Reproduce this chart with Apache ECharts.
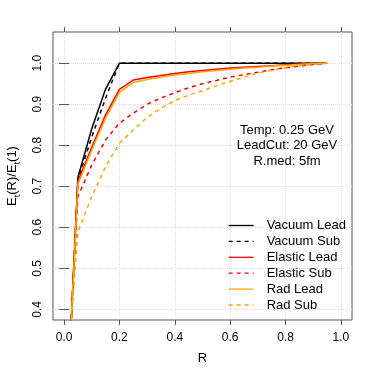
<!DOCTYPE html>
<html>
<head>
<meta charset="utf-8">
<script src="https://cdn.jsdelivr.net/npm/echarts@6/dist/echarts.min.js"></script>
<style>
html,body{margin:0;padding:0;background:#fff;}
#c{width:374px;height:374px;}
</style>
</head>
<body>
<div id="c"></div>
<script>
var R = [0.025, 0.05, 0.1, 0.15, 0.2, 0.25, 0.3, 0.35, 0.4, 0.45, 0.5, 0.55, 0.6, 0.65, 0.7, 0.75, 0.8, 0.85, 0.9, 0.95];
var vacuumLead  = [0.36, 0.722, 0.84, 0.937, 1.0, 1.0, 1.0, 1.0, 1.0, 1.0, 1.0, 1.0, 1.0, 1.0, 1.0, 1.0, 1.0, 1.0, 1.0, 1.0];
var vacuumSub   = [0.36, 0.715, 0.82, 0.915, 1.0, 1.0, 1.0, 1.0, 1.0, 1.0, 1.0, 1.0, 1.0, 1.0, 1.0, 1.0, 1.0, 1.0, 1.0, 1.0];
var elasticLead = [0.36, 0.712, 0.795, 0.874, 0.936, 0.959, 0.965, 0.970, 0.975, 0.979, 0.982, 0.985, 0.988, 0.990, 0.992, 0.994, 0.996, 0.998, 0.999, 1.0];
var elasticSub  = [0.36, 0.675, 0.752, 0.813, 0.854, 0.878, 0.900, 0.915, 0.928, 0.940, 0.950, 0.958, 0.966, 0.972, 0.978, 0.984, 0.989, 0.993, 0.997, 1.0];
var radLead     = [0.36, 0.705, 0.788, 0.866, 0.929, 0.953, 0.960, 0.966, 0.971, 0.975, 0.979, 0.982, 0.985, 0.988, 0.990, 0.993, 0.995, 0.997, 0.999, 1.0];
var radSub      = [0.36, 0.589, 0.675, 0.748, 0.805, 0.837, 0.868, 0.890, 0.909, 0.922, 0.933, 0.945, 0.956, 0.966, 0.976, 0.983, 0.989, 0.994, 0.997, 1.0];
var xTicks = [0, 0.2, 0.4, 0.6, 0.8, 1.0];
var yTicks = [0.4, 0.5, 0.6, 0.7, 0.8, 0.9, 1.0];
var seriesNames = ['Vacuum Lead', 'Vacuum Sub', 'Elastic Lead', 'Elastic Sub', 'Rad Lead', 'Rad Sub'];
var seriesData = [vacuumLead, vacuumSub, elasticLead, elasticSub, radLead, radSub];
var seriesColors = ['#000000', '#000000', '#FF0000', '#FF0000', '#FFA500', '#FFA500'];
var seriesDash = ['solid', [4, 4], 'solid', [4, 4], 'solid', [4, 4]];
var annotation = ['Temp: 0.25 GeV', 'LeadCut: 20 GeV', 'R.med: 5fm'];

var FONT = 'Liberation Sans, Arial, Helvetica, sans-serif';
function pairs(ys) { return R.map(function (r, i) { return [r, ys[i]]; }); }

var chart = echarts.init(document.getElementById('c'), null, {renderer: 'canvas'});
var frame = '#555555';
var option = {
  animation: false,
  backgroundColor: '#ffffff',
  grid: {left: 53, right: 22, top: 32, bottom: 54, show: true, borderColor: frame, borderWidth: 1,
    backgroundColor: 'transparent', containLabel: false, outerBoundsMode: 'none'},
  xAxis: [{
    type: 'value', min: -0.04, max: 1.04, position: 'bottom',
    name: 'R', nameLocation: 'middle', nameGap: 32,
    nameTextStyle: {fontSize: 13, color: '#000', fontFamily: FONT},
    axisLine: {show: false},
    axisTick: {show: true, inside: false, length: 5, customValues: xTicks, lineStyle: {color: frame}},
    axisLabel: {show: true, customValues: xTicks, margin: 12, fontSize: 12, color: '#000', fontFamily: FONT,
      formatter: function (v) { return v.toFixed(1); }},
    splitLine: {show: true, lineStyle: {color: '#dddddd', type: 'dotted', width: 1}}
  }, {
    type: 'value', min: -0.04, max: 1.04, position: 'top',
    axisLine: {show: false},
    axisTick: {show: true, inside: false, length: 5, customValues: xTicks, lineStyle: {color: frame}},
    axisLabel: {show: false},
    splitLine: {show: false}
  }],
  yAxis: [{
    type: 'value', min: 0.374, max: 1.076, position: 'left',
    name: '{a|E}{s|t}{a|(R)/E}{s|t}{a|(1)}', nameLocation: 'middle', nameGap: 31, nameRotate: 90,
    nameTextStyle: {
      rich: {
        a: {fontSize: 13, color: '#000', fontFamily: FONT, verticalAlign: 'bottom', padding: [0, 0, 3, 0]},
        s: {fontSize: 9, color: '#000', fontFamily: FONT, verticalAlign: 'bottom'}
      }
    },
    axisLine: {show: false},
    axisTick: {show: true, inside: false, length: 5, customValues: yTicks, lineStyle: {color: frame}},
    axisLabel: {show: true, customValues: yTicks, rotate: 90, margin: 9, fontSize: 12, color: '#000', fontFamily: FONT,
      formatter: function (v) { return v.toFixed(1); }},
    splitLine: {show: true, lineStyle: {color: '#dddddd', type: 'dotted', width: 1}}
  }, {
    type: 'value', min: 0.374, max: 1.076, position: 'right',
    axisLine: {show: false},
    axisTick: {show: true, inside: false, length: 5, customValues: yTicks, lineStyle: {color: frame}},
    axisLabel: {show: false},
    splitLine: {show: false}
  }],
  legend: {
    orient: 'vertical', left: 228, top: 219, padding: 0,
    itemWidth: 25, itemHeight: 14, itemGap: 2.9,
    data: seriesNames,
    itemStyle: {opacity: 0},
    lineStyle: {width: 1.3},
    textStyle: {fontSize: 13, color: '#000', fontFamily: FONT, padding: [0, 0, 0, 8]},
    selectedMode: false
  },
  graphic: annotation.map(function (t, i) {
    return {type: 'text', x: 287, y: 130 + i * 15.8, z: 100,
      style: {text: t, textAlign: 'center', textVerticalAlign: 'middle', fontSize: 13, fill: '#000', fontFamily: FONT}};
  }),
  series: seriesNames.map(function (n, i) {
    return {
      name: n, type: 'line', xAxisIndex: 0, yAxisIndex: 0,
      data: pairs(seriesData[i]),
      symbol: 'none', showSymbol: false, clip: true, smooth: false,
      color: seriesColors[i],
      lineStyle: {color: seriesColors[i], width: 1.5, type: seriesDash[i]},
      itemStyle: {color: seriesColors[i]}
    };
  })
};
chart.setOption(option);
</script>
</body>
</html>
